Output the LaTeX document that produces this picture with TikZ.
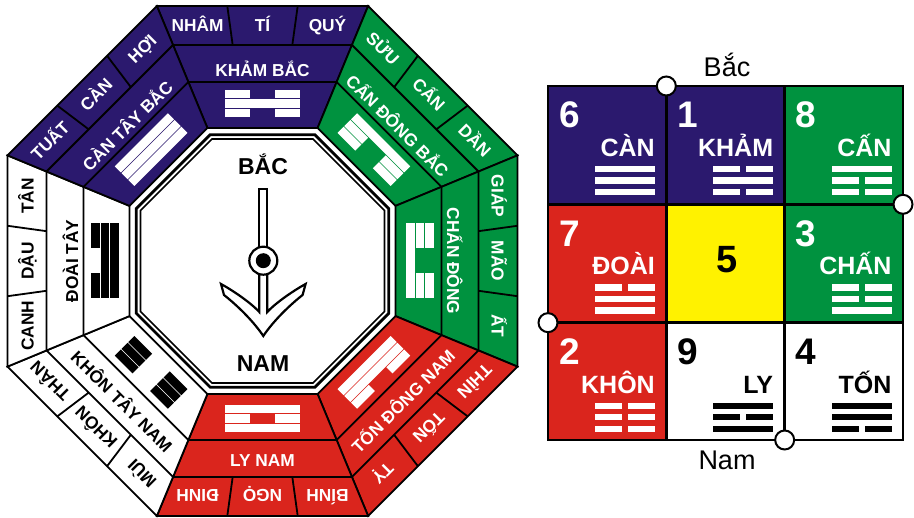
\documentclass[tikz,border=0pt]{standalone}
\usepackage{fontspec}
\setmainfont{Liberation Sans}
\usetikzlibrary{calc}
\definecolor{bluF}{RGB}{43,25,110}
\colorlet{bluT}{white}
\definecolor{grnF}{RGB}{0,146,63}
\colorlet{grnT}{white}
\definecolor{redF}{RGB}{218,37,29}
\colorlet{redT}{white}
\colorlet{whtF}{white}
\colorlet{whtT}{black}
\definecolor{yelF}{RGB}{255,242,0}
\tikzset{
  secline/.style={line width=1.8pt,line join=miter},
  ringtxt/.style={font=\fontsize{17.3}{19}\selectfont\bfseries,anchor=base,inner sep=0pt},
  gdigit/.style={font=\fontsize{37}{40}\selectfont\bfseries,inner sep=0pt},
  gname/.style={font=\fontsize{25}{28}\selectfont\bfseries,inner sep=0pt},
  gcirc/.style={circle,draw=black,fill=white,line width=2pt,minimum size=19pt,inner sep=0pt},
  compass/.style={draw=black,fill=white,line width=2.2pt,line join=miter}
}
% one bar of a trigram in a sector's local frame
\newcommand\trbar[3]{%
  \ifnum#2=1
    \fill[#3] (-37.5,{#1-4.35}) rectangle (37.5,{#1+4.35});
  \else
    \fill[#3] (-37.5,{#1-4.35}) rectangle (-12.5,{#1+4.35});
    \fill[#3] (12.5,{#1-4.35}) rectangle (37.5,{#1+4.35});
  \fi}
\newcommand\mytri[4]{\trbar{148}{#1}{#4}\trbar{157.5}{#2}{#4}\trbar{167}{#3}{#4}}
% sector: direction, colour key, outer 1..3, middle, middle rotation, trigram, id
\newcommand\bsector[9]{%
  \begin{scope}[shift={(262.5,257)},rotate={#1-90},transform shape]
    \fill[#2F] (-105.62,255) -- (105.62,255) -- (55.09,133) -- (-55.09,133) -- cycle;
    \mytri#8{#2T}
    \draw[secline] (-105.62,255) -- (105.62,255) -- (55.09,133) -- (-55.09,133) -- cycle;
    \draw[secline] (-89.47,216) -- (89.47,216) (-74.14,179) -- (74.14,179)
      (-35.21,255) -- (-29.82,216) (35.21,255) -- (29.82,216);
    \node[ringtxt,text=#2T] (#9a) at (-65,229) {#3};
    \node[ringtxt,text=#2T] (#9b) at (0,229) {#4};
    \node[ringtxt,text=#2T] (#9c) at (65,229) {#5};
    \node[ringtxt,text=#2T,rotate=#7] (#9m) at (0,{184.5+#7/8.6}) {#6};
  \end{scope}}
% grid bar
\newcommand\gbar[4]{%
  \ifnum#3=1
    \fill[#4] ({#1+47},{#2}) rectangle ({#1+107},{#2+6.2});
  \else
    \fill[#4] ({#1+47},{#2}) rectangle ({#1+74},{#2+6.2});
    \fill[#4] ({#1+80},{#2}) rectangle ({#1+107},{#2+6.2});
  \fi}
% grid cell: x0, top y, fill, text colour, digit, name, top, mid, bottom bar
\newcommand\gcell[9]{%
  \fill[#3] (#1,#2) rectangle ({#1+118.33},{#2-118.33});
  \node[gdigit,text=#4,anchor=base west] (d#5) at ({#1+11},{#2-42}) {#5};
  \node[gname,text=#4,anchor=base east] (n#5) at ({#1+107},{#2-70.5}) {#6};
  \gbar{#1}{#2-86.2}{#7}{#4}
  \gbar{#1}{#2-97.7}{#8}{#4}
  \gbar{#1}{#2-109.2}{#9}{#4}}

\begin{document}
\begin{tikzpicture}[x=1pt,y=1pt]
\useasboundingbox (0,0) rectangle (914,518);
\fill[white] (0,0) rectangle (914,518);

% ---------- Bagua ----------
\bsector{90}{blu}{NHÂM}{TÍ}{QUÝ}{KHẢM BẮC}{0}{010}{sN}
\bsector{45}{grn}{SỬU}{CẤN}{DẦN}{CẤN ĐÔNG BẮC}{0}{001}{sNE}
\bsector{0}{grn}{GIÁP}{MÃO}{ẤT}{CHẤN ĐÔNG}{0}{100}{sE}
\bsector{-45}{red}{THÌN}{TỐN}{TỴ}{TỐN ĐÔNG NAM}{180}{110}{sSE}
\bsector{-90}{red}{BÍNH}{NGỌ}{ĐINH}{LY NAM}{180}{101}{sS}
\bsector{-135}{wht}{MÙI}{KHÔN}{THÂN}{KHÔN TÂY NAM}{180}{000}{sSW}
\bsector{180}{wht}{CANH}{DẬU}{TÂN}{ĐOÀI TÂY}{0}{110}{sW}
\bsector{135}{blu}{TUẤT}{CÀN}{HỢI}{CÀN TÂY BẮC}{0}{111}{sNW}

\begin{scope}[shift={(262.5,257)}]
  \draw[line width=2.7pt] (22.5:136.7) -- (67.5:136.7) -- (112.5:136.7) -- (157.5:136.7)
    -- (202.5:136.7) -- (247.5:136.7) -- (292.5:136.7) -- (337.5:136.7) -- cycle;
  \draw[line width=1.7pt] (22.5:132.05) -- (67.5:132.05) -- (112.5:132.05) -- (157.5:132.05)
    -- (202.5:132.05) -- (247.5:132.05) -- (292.5:132.05) -- (337.5:132.05) -- cycle;
\end{scope}

% compass symbol
\draw[compass] (259.3,257) rectangle (267.3,329);
\draw[compass] (259.3,257) -- (259.3,206)
  .. controls (250,216) and (232,228) .. (221,234) -- (224,223)
  .. controls (238,212) and (254,196) .. (263.3,182)
  .. controls (272.6,196) and (288.6,212) .. (302.6,223) -- (305.6,234)
  .. controls (294.6,228) and (276.6,216) .. (267.3,206) -- (267.3,257) -- cycle;
\draw[compass] (263.3,257.3) circle (14);
\fill[black] (263.3,257.3) circle (7.5);
\node[font=\fontsize{23}{26}\selectfont\bfseries,anchor=base,inner sep=0pt] (cbac) at (263,343) {BẮC};
\node[font=\fontsize{23}{26}\selectfont\bfseries,anchor=base,inner sep=0pt] (cnam) at (263,146.3) {NAM};

% ---------- Lo Shu grid ----------
\gcell{548}{432}{bluF}{white}{6}{CÀN}{1}{1}{1}
\gcell{666.33}{432}{bluF}{white}{1}{KHẢM}{0}{1}{0}
\gcell{784.67}{432}{grnF}{white}{8}{CẤN}{1}{0}{0}
\gcell{548}{313.67}{redF}{white}{7}{ĐOÀI}{0}{1}{1}
\fill[yelF] (666.33,313.67) rectangle (784.67,195.33);
\gcell{784.67}{313.67}{grnF}{white}{3}{CHẤN}{0}{0}{1}
\gcell{548}{195.33}{redF}{white}{2}{KHÔN}{0}{0}{0}
\gcell{666.33}{195.33}{white}{black}{9}{LY}{1}{0}{1}
\gcell{784.67}{195.33}{white}{black}{4}{TỐN}{1}{1}{0}
\node[font=\fontsize{38}{40}\selectfont\bfseries,inner sep=0pt] (five) at (727,258) {5};

\draw[line width=2.5pt] (548,78) rectangle (903,432);
\draw[line width=2.5pt] (666.33,78) -- (666.33,432) (784.67,78) -- (784.67,432)
  (548,313.67) -- (903,313.67) (548,195.33) -- (903,195.33);
\node[gcirc] (ctop) at (666.33,432) {};
\node[gcirc] (cright) at (903,313.67) {};
\node[gcirc] (cleft) at (548,195.33) {};
\node[gcirc] (cbot) at (784.67,78) {};
\node[font=\fontsize{27}{30}\selectfont,anchor=base,inner sep=0pt] (lbac) at (727,441) {Bắc};
\node[font=\fontsize{27}{30}\selectfont,anchor=base,inner sep=0pt] (lnam) at (727,48) {Nam};
\end{tikzpicture}
\end{document}
